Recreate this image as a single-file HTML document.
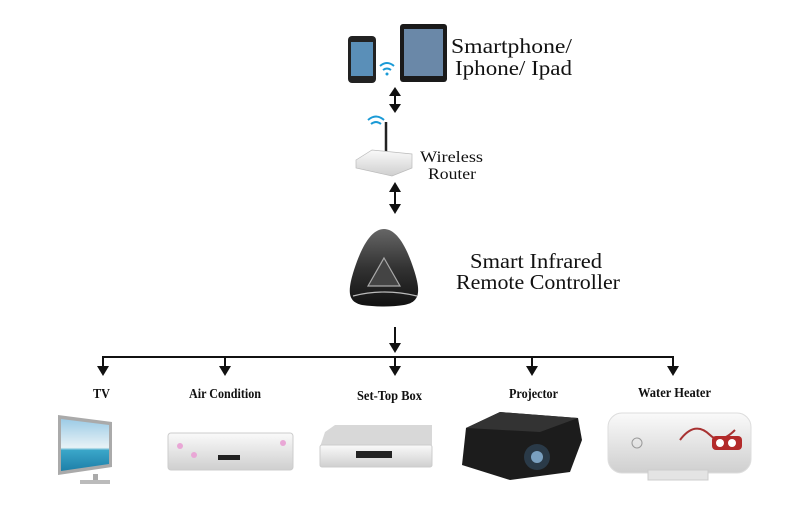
<!DOCTYPE html>
<html><head><meta charset="utf-8"><style>
html,body{margin:0;padding:0;background:#fff;}
svg{display:block;}
.s{font-family:"Liberation Serif",serif;fill:#111;}
.l{font-family:"Liberation Serif",serif;fill:#111;font-size:14px;font-weight:bold;}
</style></head><body>
<svg width="800" height="525" viewBox="0 0 800 525" xmlns="http://www.w3.org/2000/svg">
<defs>
<linearGradient id="ctl" x1="0" y1="0" x2="0" y2="1"><stop offset="0" stop-color="#666"/><stop offset="0.5" stop-color="#333"/><stop offset="1" stop-color="#111"/></linearGradient>
<linearGradient id="wt" x1="0" y1="0" x2="0" y2="1"><stop offset="0" stop-color="#fafafa"/><stop offset="1" stop-color="#cfcfcf"/></linearGradient>
<linearGradient id="sea" x1="0" y1="0" x2="0" y2="1"><stop offset="0" stop-color="#9ccbe6"/><stop offset="0.55" stop-color="#e8f2f6"/><stop offset="0.6" stop-color="#3aa6c9"/><stop offset="1" stop-color="#1e7fa8"/></linearGradient>
</defs>
<!-- phone -->
<rect x="348" y="36" width="28" height="47" rx="4" fill="#222"/>
<rect x="351" y="42" width="22" height="34" fill="#5a8fb8"/>
<g fill="none" stroke="#1a9ad6" stroke-width="2"><path d="M380,66 q7,-6 14,0"/><path d="M383,70 q4,-3 8,0"/></g>
<circle cx="387" cy="74" r="1.5" fill="#1a9ad6"/>
<rect x="400" y="24" width="47" height="58" rx="3" fill="#1a1a1a"/>
<rect x="404" y="29" width="39" height="47" fill="#6a88a8"/>
<text class="s" x="451" y="53" font-size="21" textLength="121" lengthAdjust="spacingAndGlyphs">Smartphone/</text>
<text class="s" x="455" y="75" font-size="21" textLength="117" lengthAdjust="spacingAndGlyphs">Iphone/ Ipad</text>
<g stroke="#111" stroke-width="2"><line x1="395" y1="94" x2="395" y2="106"/><line x1="395" y1="190" x2="395" y2="206"/><line x1="395" y1="327" x2="395" y2="346"/>
<line x1="102" y1="357" x2="674" y2="357"/>
<line x1="103" y1="357" x2="103" y2="368"/><line x1="225" y1="357" x2="225" y2="368"/><line x1="395" y1="357" x2="395" y2="368"/><line x1="532" y1="357" x2="532" y2="368"/><line x1="673" y1="357" x2="673" y2="368"/></g>
<g fill="#111">
<polygon points="389,96 401,96 395,87"/><polygon points="389,104 401,104 395,113"/>
<polygon points="389,192 401,192 395,182"/><polygon points="389,204 401,204 395,214"/>
<polygon points="389,343 401,343 395,353"/>
<polygon points="97,366 109,366 103,376"/><polygon points="219,366 231,366 225,376"/><polygon points="389,366 401,366 395,376"/><polygon points="526,366 538,366 532,376"/><polygon points="667,366 679,366 673,376"/>
</g>
<!-- router -->
<line x1="386" y1="122" x2="386" y2="158" stroke="#222" stroke-width="2.5"/>
<g fill="none" stroke="#1a9ad6" stroke-width="2"><path d="M368,120 q8,-7 16,0"/><path d="M371,124 q5,-4 10,0"/></g>
<polygon points="356,160 372,150 412,154 412,168 392,176 356,168" fill="url(#wt)" stroke="#bbb" stroke-width="0.7"/>
<text class="s" x="420" y="162" font-size="16" textLength="63" lengthAdjust="spacingAndGlyphs">Wireless</text>
<text class="s" x="428" y="179" font-size="16" textLength="48" lengthAdjust="spacingAndGlyphs">Router</text>
<!-- controller -->
<path d="M384,229 C396,229 406,245 414,270 C421,292 420,302 404,305 C392,307 376,307 362,305 C348,302 347,292 354,270 C362,245 372,229 384,229 Z" fill="url(#ctl)"/>
<path d="M384,258 L400,286 L368,286 Z" fill="#444" stroke="#aaa" stroke-width="1.2"/>
<path d="M353,296 Q384,288 417,296" fill="none" stroke="#bbb" stroke-width="1.2"/>
<text class="s" x="470" y="268" font-size="21" textLength="132" lengthAdjust="spacingAndGlyphs">Smart Infrared</text>
<text class="s" x="456" y="289" font-size="21" textLength="164" lengthAdjust="spacingAndGlyphs">Remote Controller</text>
<text class="l" x="93" y="398" textLength="17" lengthAdjust="spacingAndGlyphs">TV</text>
<text class="l" x="189" y="398" textLength="72" lengthAdjust="spacingAndGlyphs">Air Condition</text>
<text class="l" x="357" y="400" textLength="65" lengthAdjust="spacingAndGlyphs">Set-Top Box</text>
<text class="l" x="509" y="398" textLength="49" lengthAdjust="spacingAndGlyphs">Projector</text>
<text class="l" x="638" y="397" textLength="73" lengthAdjust="spacingAndGlyphs">Water Heater</text>
<!-- TV -->
<polygon points="58,415 112,422 112,467 58,475" fill="#aaa"/>
<polygon points="61,419 109,425 109,464 61,471" fill="url(#sea)"/>
<rect x="93" y="474" width="5" height="6" fill="#aaa"/><rect x="80" y="480" width="30" height="4" fill="#bbb"/>
<!-- AC -->
<rect x="168" y="433" width="125" height="37" rx="3" fill="url(#wt)" stroke="#ccc"/>
<rect x="218" y="455" width="22" height="5" fill="#222"/>
<circle cx="180" cy="446" r="3" fill="#e9a7d6"/><circle cx="194" cy="455" r="3" fill="#e9a7d6"/><circle cx="283" cy="443" r="3" fill="#e9a7d6"/>
<!-- STB -->
<polygon points="325,432 335,425 432,425 432,445 320,447" fill="#d8d8d8"/>
<rect x="320" y="445" width="112" height="22" rx="2" fill="url(#wt)" stroke="#ccc"/>
<rect x="356" y="451" width="36" height="7" fill="#222"/>
<!-- projector -->
<polygon points="466,428 500,412 578,418 582,440 570,472 510,480 462,465" fill="#1c1c1c"/>
<polygon points="466,428 500,412 578,418 540,432" fill="#333"/>
<circle cx="537" cy="457" r="13" fill="#2a3a48"/><circle cx="537" cy="457" r="6" fill="#7aa0c0"/>
<!-- heater -->
<rect x="608" y="413" width="143" height="60" rx="14" fill="url(#wt)" stroke="#ddd"/>
<rect x="648" y="470" width="60" height="10" fill="#e4e4e4" stroke="#ccc"/>
<circle cx="637" cy="443" r="5" fill="none" stroke="#999"/>
<path d="M680,440 q15,-20 30,-5 q10,10 25,-5" fill="none" stroke="#a83232" stroke-width="2"/>
<rect x="712" y="436" width="30" height="14" rx="4" fill="#b32a2a"/>
<circle cx="720" cy="443" r="4" fill="#fff"/><circle cx="732" cy="443" r="4" fill="#fff"/>
</svg>
</body></html>
